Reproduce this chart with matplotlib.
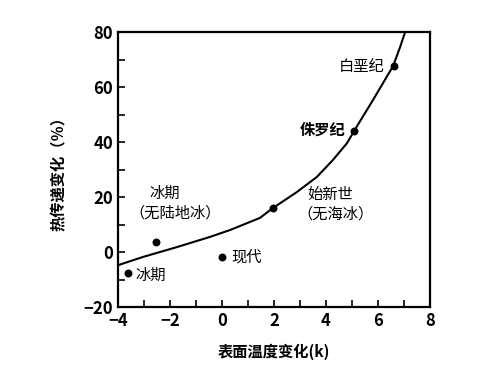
import matplotlib
matplotlib.use("Agg")
import matplotlib.pyplot as plt
from matplotlib.ticker import MultipleLocator

plt.rcParams['font.family'] = ['Noto Sans CJK SC', 'DejaVu Sans']

# Curve (surface temperature change vs heat transport change)
curve_x = [-4.0, -3.04, -1.73, -0.46, 0.31, 1.46, 1.96, 2.88, 3.65, 4.27, 4.81, 5.08, 5.81, 6.58, 6.85, 7.08]
curve_y = [-4.8, -1.8, 1.8, 5.5, 8.0, 12.4, 16.0, 21.8, 27.3, 33.5, 39.6, 44.0, 55.3, 67.6, 74.5, 81.0]

# Labelled points
pt_x = [-3.6, -2.55, 0.0, 1.96, 5.08, 6.6]
pt_y = [-7.6, 3.6, -1.8, 16.0, 44.0, 67.6]

x_ticks = [-4, -2, 0, 2, 4, 6, 8]
x_ticklabels = ["−4", "−2", "0", "2", "4", "6", "8"]
y_ticks = [-20, 0, 20, 40, 60, 80]
y_ticklabels = ["−20", "0", "20", "40", "60", "80"]

fig = plt.figure(figsize=(4.88, 3.78), dpi=100)
ax = fig.add_axes([0.2418, 0.1878, 0.6393, 0.7275])

ax.plot(curve_x, curve_y, color='black', lw=1.5)
ax.scatter(pt_x, pt_y, s=22, color='black', zorder=3)

ax.set_xlim(-4, 8)
ax.set_ylim(-20, 80)
ax.set_xticks(x_ticks)
ax.set_xticklabels(x_ticklabels)
ax.set_yticks(y_ticks)
ax.set_yticklabels(y_ticklabels)
ax.xaxis.set_minor_locator(MultipleLocator(1))
ax.yaxis.set_minor_locator(MultipleLocator(10))
ax.tick_params(which='both', direction='in', length=5, width=1.2, top=False, right=False)
ax.tick_params(axis='both', labelsize=12)
for lab in ax.get_xticklabels() + ax.get_yticklabels():
    lab.set_fontweight('bold')
for s in ax.spines.values():
    s.set_linewidth(1.6)

tfs = 11
ax.text(6.25, 67.6, "白垩纪", ha='right', va='center', fontsize=tfs)
ax.text(4.75, 44.4, "侏罗纪", ha='right', va='center', fontsize=tfs, fontweight='bold')
ax.text(4.15, 21.0, "始新世", ha='center', va='center', fontsize=tfs)
ax.text(4.35, 13.8, "（无海冰）", ha='center', va='center', fontsize=tfs)
ax.text(-2.2, 21.5, "冰期", ha='center', va='center', fontsize=tfs)
ax.text(-1.8, 14.0, "（无陆地冰）", ha='center', va='center', fontsize=tfs)
ax.text(0.35, -1.8, "现代", ha='left', va='center', fontsize=tfs)
ax.text(-3.35, -8.5, "冰期", ha='left', va='center', fontsize=tfs)

ax.set_xlabel("表面温度变化(k)", fontsize=11, fontweight='bold', labelpad=10)
ax.set_ylabel("热传递变化（％）", fontsize=11, fontweight='bold', labelpad=12)

fig.savefig("out.png", dpi=100)
